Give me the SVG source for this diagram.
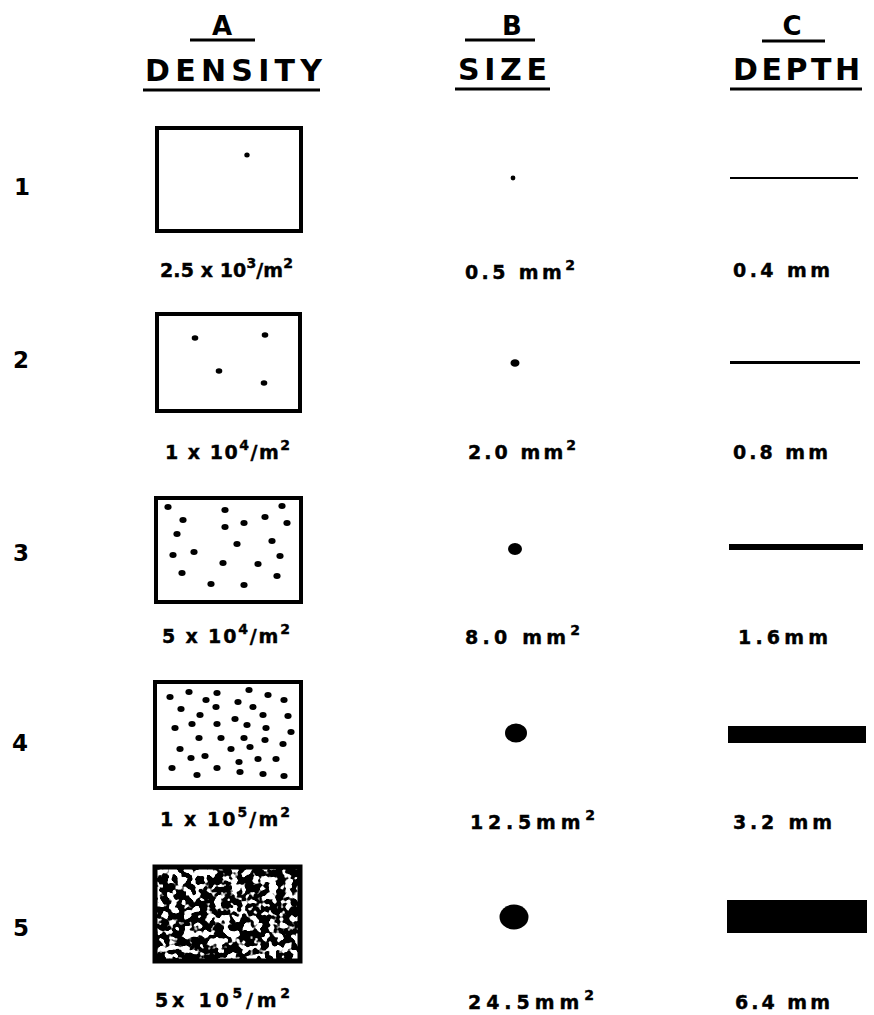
<svg xmlns="http://www.w3.org/2000/svg" width="874" height="1015" viewBox="0 0 874 1015">
<style>
.h{font-family:"DejaVu Sans","Liberation Sans",sans-serif;font-weight:bold;fill:#000}
.lb{font-family:"DejaVu Sans","Liberation Sans",sans-serif;font-weight:bold;font-size:19px;fill:#000;stroke:#000;stroke-width:0.4}
.num{font-family:"DejaVu Sans","Liberation Sans",sans-serif;font-weight:bold;font-size:23px;fill:#000}
.ul{stroke:#000;stroke-width:3;fill:none}
.box{fill:#fff;stroke:#000;stroke-width:4}
.d{fill:#000}
</style>
<defs>
<filter id="blobs" x="0" y="0" width="1" height="1" filterUnits="objectBoundingBox">
<feTurbulence type="fractalNoise" baseFrequency="0.13" numOctaves="2" seed="7" result="n"/>
<feColorMatrix in="n" type="matrix" values="0 0 0 0 0  0 0 0 0 0  0 0 0 0 0  -14 0 0 0 8.0"/>
</filter>
</defs>
<rect width="874" height="1015" fill="#fff"/>

<g id="headers">
<text class="h" x="222" y="35" font-size="26" text-anchor="middle">A</text>
<line class="ul" x1="190" y1="40" x2="255" y2="40"/>
<text class="h" x="145" y="81" font-size="30" textLength="177" lengthAdjust="spacing">DENSITY</text>
<line class="ul" x1="143" y1="90" x2="320" y2="90"/>
<text class="h" x="512" y="35" font-size="26" text-anchor="middle">B</text>
<line class="ul" x1="465" y1="40" x2="535" y2="40"/>
<text class="h" x="458" y="80" font-size="30" textLength="89" lengthAdjust="spacing">SIZE</text>
<line class="ul" x1="455" y1="89" x2="550" y2="89"/>
<text class="h" x="792" y="35" font-size="26" text-anchor="middle">C</text>
<line class="ul" x1="762" y1="41" x2="825" y2="41"/>
<text class="h" x="733" y="80" font-size="30" textLength="127" lengthAdjust="spacing">DEPTH</text>
<line class="ul" x1="730" y1="89" x2="862" y2="89"/>
</g>

<g id="row-numbers">
<text class="num" x="14" y="195">1</text>
<text class="num" x="13" y="368">2</text>
<text class="num" x="13" y="561">3</text>
<text class="num" x="12" y="751">4</text>
<text class="num" x="13" y="936">5</text>
</g>

<g id="a1">
<rect class="box" x="157" y="128" width="144" height="103"/>
<ellipse class="d" cx="247" cy="155" rx="2.7" ry="2.5"/>
<text class="lb" x="160" y="277" textLength="133" lengthAdjust="spacing">2.5 x 10<tspan font-size="14" dy="-9">3</tspan><tspan dy="9">/m</tspan><tspan font-size="14" dy="-9">2</tspan></text>
</g>

<g id="a2">
<rect class="box" x="157" y="314" width="143" height="97"/>
<ellipse class="d" cx="195" cy="338" rx="3.3" ry="2.8"/>
<ellipse class="d" cx="265" cy="335" rx="3.3" ry="2.8"/>
<ellipse class="d" cx="219" cy="371" rx="3.3" ry="2.8"/>
<ellipse class="d" cx="264" cy="383" rx="3.3" ry="2.8"/>
<text class="lb" x="165" y="459" textLength="125" lengthAdjust="spacing">1 x 10<tspan font-size="14" dy="-9">4</tspan><tspan dy="9">/m</tspan><tspan font-size="14" dy="-9">2</tspan></text>
</g>

<g id="a3">
<rect class="box" x="156" y="498" width="145" height="104"/>
<g class="d">
<ellipse cx="168" cy="507" rx="3.6" ry="3"/><ellipse cx="225" cy="510" rx="3.6" ry="3"/><ellipse cx="282" cy="506" rx="3.6" ry="3"/>
<ellipse cx="183" cy="520" rx="3.6" ry="3"/><ellipse cx="225" cy="527" rx="3.6" ry="3"/><ellipse cx="244" cy="523" rx="3.6" ry="3"/>
<ellipse cx="265" cy="517" rx="3.6" ry="3"/><ellipse cx="287" cy="523" rx="3.6" ry="3"/><ellipse cx="177" cy="534" rx="3.6" ry="3"/>
<ellipse cx="237" cy="544" rx="3.6" ry="3"/><ellipse cx="272" cy="541" rx="3.6" ry="3"/><ellipse cx="173" cy="555" rx="3.6" ry="3"/>
<ellipse cx="194" cy="552" rx="3.6" ry="3"/><ellipse cx="223" cy="563" rx="3.6" ry="3"/><ellipse cx="258" cy="564" rx="3.6" ry="3"/>
<ellipse cx="280" cy="556" rx="3.6" ry="3"/><ellipse cx="182" cy="573" rx="3.6" ry="3"/><ellipse cx="277" cy="576" rx="3.6" ry="3"/>
<ellipse cx="211" cy="584" rx="3.6" ry="3"/><ellipse cx="244" cy="585" rx="3.6" ry="3"/>
</g>
<text class="lb" x="162" y="643" textLength="128" lengthAdjust="spacing">5 x 10<tspan font-size="14" dy="-9">4</tspan><tspan dy="9">/m</tspan><tspan font-size="14" dy="-9">2</tspan></text>
</g>

<g id="a4">
<rect class="box" x="155" y="682" width="146" height="106"/>
<g class="d">
<ellipse cx="170" cy="697" rx="3.6" ry="3"/><ellipse cx="189" cy="692" rx="3.6" ry="3"/><ellipse cx="206" cy="700" rx="3.6" ry="3"/>
<ellipse cx="217" cy="693" rx="3.6" ry="3"/><ellipse cx="249" cy="690" rx="3.6" ry="3"/><ellipse cx="268" cy="695" rx="3.6" ry="3"/>
<ellipse cx="284" cy="700" rx="3.6" ry="3"/><ellipse cx="181" cy="709" rx="3.6" ry="3"/><ellipse cx="216" cy="707" rx="3.6" ry="3"/>
<ellipse cx="238" cy="702" rx="3.6" ry="3"/><ellipse cx="253" cy="707" rx="3.6" ry="3"/><ellipse cx="200" cy="715" rx="3.6" ry="3"/>
<ellipse cx="263" cy="715" rx="3.6" ry="3"/><ellipse cx="288" cy="716" rx="3.6" ry="3"/><ellipse cx="175" cy="728" rx="3.6" ry="3"/>
<ellipse cx="192" cy="724" rx="3.6" ry="3"/><ellipse cx="217" cy="724" rx="3.6" ry="3"/><ellipse cx="235" cy="719" rx="3.6" ry="3"/>
<ellipse cx="247" cy="725" rx="3.6" ry="3"/><ellipse cx="266" cy="728" rx="3.6" ry="3"/><ellipse cx="291" cy="732" rx="3.6" ry="3"/>
<ellipse cx="199" cy="738" rx="3.6" ry="3"/><ellipse cx="221" cy="738" rx="3.6" ry="3"/><ellipse cx="244" cy="738" rx="3.6" ry="3"/>
<ellipse cx="265" cy="740" rx="3.6" ry="3"/><ellipse cx="180" cy="749" rx="3.6" ry="3"/><ellipse cx="231" cy="749" rx="3.6" ry="3"/>
<ellipse cx="250" cy="747" rx="3.6" ry="3"/><ellipse cx="283" cy="744" rx="3.6" ry="3"/><ellipse cx="191" cy="758" rx="3.6" ry="3"/>
<ellipse cx="205" cy="756" rx="3.6" ry="3"/><ellipse cx="239" cy="762" rx="3.6" ry="3"/><ellipse cx="258" cy="759" rx="3.6" ry="3"/>
<ellipse cx="276" cy="759" rx="3.6" ry="3"/><ellipse cx="172" cy="768" rx="3.6" ry="3"/><ellipse cx="217" cy="768" rx="3.6" ry="3"/>
<ellipse cx="197" cy="775" rx="3.6" ry="3"/><ellipse cx="240" cy="772" rx="3.6" ry="3"/><ellipse cx="263" cy="774" rx="3.6" ry="3"/>
<ellipse cx="284" cy="776" rx="3.6" ry="3"/>
</g>
<text class="lb" x="160" y="826" textLength="130" lengthAdjust="spacing">1 x 10<tspan font-size="14" dy="-9">5</tspan><tspan dy="9">/m</tspan><tspan font-size="14" dy="-9">2</tspan></text>
</g>

<g id="a5">
<rect x="155" y="867" width="145" height="94" fill="#fff"/>
<rect x="157" y="869" width="141" height="90" fill="#000" filter="url(#blobs)"/>
<rect x="155" y="867" width="145" height="94" fill="none" stroke="#000" stroke-width="5"/>
<text class="lb" x="155" y="1007" textLength="135" lengthAdjust="spacing">5x 10<tspan font-size="14" dy="-9">5</tspan><tspan dy="9">/m</tspan><tspan font-size="14" dy="-9">2</tspan></text>
</g>

<g id="b1">
<circle class="d" cx="513" cy="178" r="2.4"/>
<text class="lb" x="465" y="279" textLength="110" lengthAdjust="spacing">0.5 mm<tspan font-size="14" dy="-9">2</tspan></text>
</g>
<g id="b2">
<ellipse class="d" cx="515" cy="363" rx="4.5" ry="3.8"/>
<text class="lb" x="468" y="459" textLength="108" lengthAdjust="spacing">2.0 mm<tspan font-size="14" dy="-9">2</tspan></text>
</g>
<g id="b3">
<ellipse class="d" cx="515" cy="549" rx="7" ry="6"/>
<text class="lb" x="465" y="644" textLength="115" lengthAdjust="spacing">8.0 mm<tspan font-size="14" dy="-9">2</tspan></text>
</g>
<g id="b4">
<ellipse class="d" cx="516" cy="733" rx="11" ry="9.5"/>
<text class="lb" x="470" y="829" textLength="125" lengthAdjust="spacing">12.5mm<tspan font-size="14" dy="-9">2</tspan></text>
</g>
<g id="b5">
<ellipse class="d" cx="514" cy="917" rx="14.5" ry="12.5"/>
<text class="lb" x="468" y="1009" textLength="126" lengthAdjust="spacing">24.5mm<tspan font-size="14" dy="-9">2</tspan></text>
</g>

<g id="c1">
<rect class="d" x="730" y="177" width="128" height="2"/>
<text class="lb" x="733" y="277" textLength="97" lengthAdjust="spacing">0.4 mm</text>
</g>
<g id="c2">
<rect class="d" x="730" y="361" width="130" height="3"/>
<text class="lb" x="733" y="459" textLength="95" lengthAdjust="spacing">0.8 mm</text>
</g>
<g id="c3">
<rect class="d" x="729" y="544" width="134" height="6"/>
<text class="lb" x="738" y="644" textLength="90" lengthAdjust="spacing">1.6mm</text>
</g>
<g id="c4">
<rect class="d" x="728" y="726" width="138" height="17"/>
<text class="lb" x="733" y="829" textLength="99" lengthAdjust="spacing">3.2 mm</text>
</g>
<g id="c5">
<rect class="d" x="727" y="900" width="140" height="33"/>
<text class="lb" x="735" y="1009" textLength="95" lengthAdjust="spacing">6.4 mm</text>
</g>
</svg>
